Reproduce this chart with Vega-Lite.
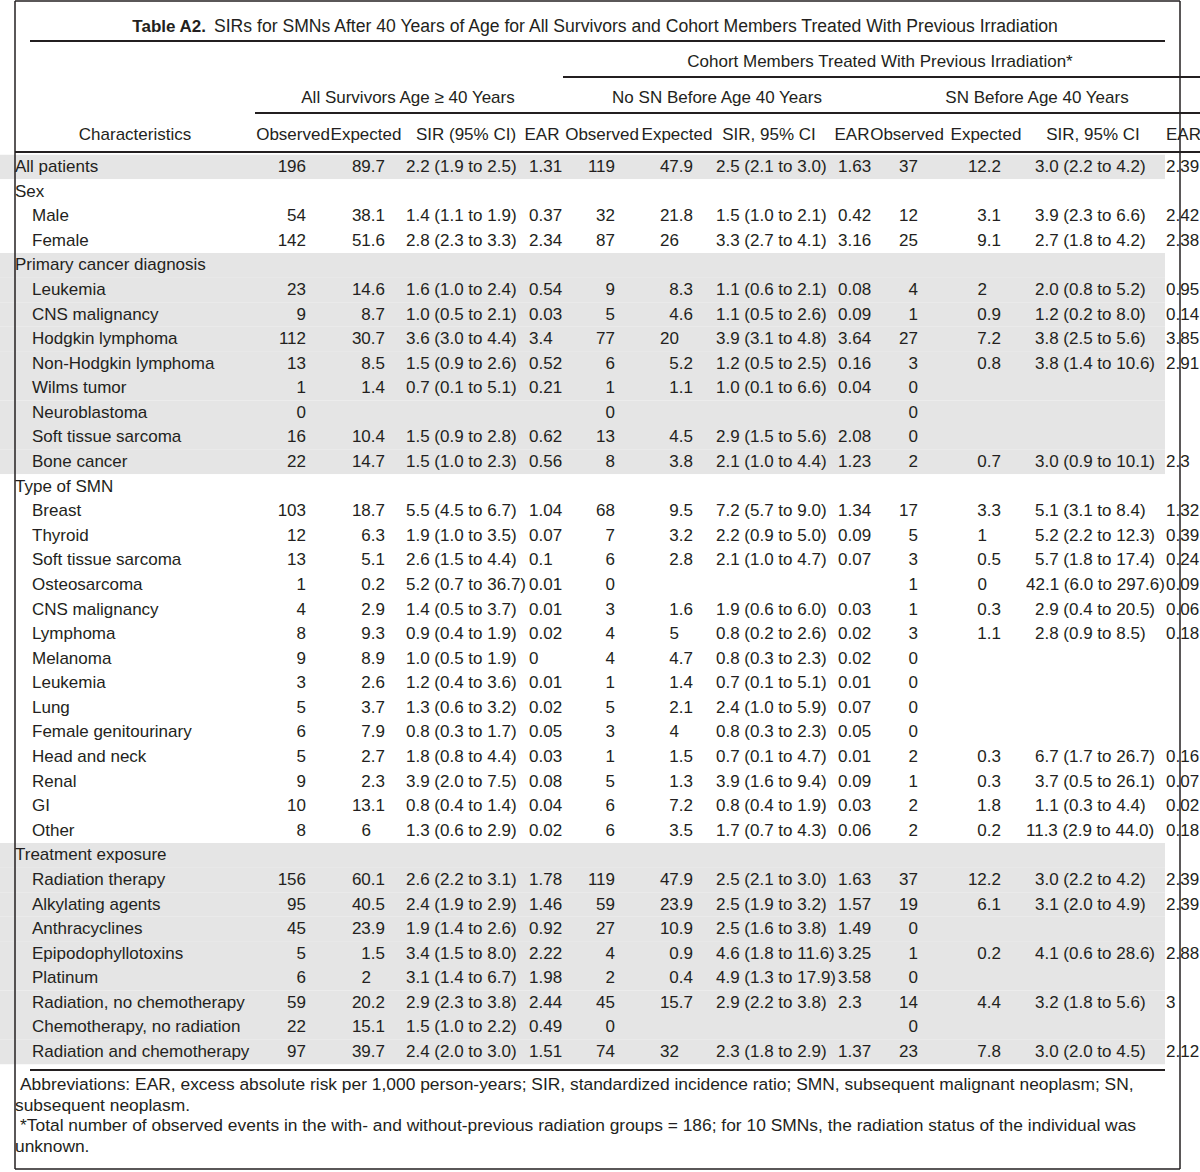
{
"$schema": "https://vega.github.io/schema/vega-lite/v6.json",
"width": 1200, "height": 1172, "autosize": "none", "padding": 0, "background": "white",
"config": {"view": {"stroke": null}, "text": {"font": "Liberation Sans", "fontSize": 17, "color": "#231f20", "baseline": "middle"}, "rule": {"color": "#231f20"}},
"datasets": {
"rows": [
{"r":1,"sec":"A","lvl":0,"label":"All patients","o1":"196","e1":"89.7","s1":"2.2 (1.9 to 2.5)","a1":"1.31","o2":"119","e2":"47.9","s2":"2.5 (2.1 to 3.0)","a2":"1.63","o3":"37","e3":"12.2","s3":"3.0 (2.2 to 4.2)","a3":"2.39"},
{"r":2,"sec":"S","lvl":0,"label":"Sex"},
{"r":3,"sec":"S","lvl":1,"label":"Male","o1":"54","e1":"38.1","s1":"1.4 (1.1 to 1.9)","a1":"0.37","o2":"32","e2":"21.8","s2":"1.5 (1.0 to 2.1)","a2":"0.42","o3":"12","e3":"3.1","s3":"3.9 (2.3 to 6.6)","a3":"2.42"},
{"r":4,"sec":"S","lvl":1,"label":"Female","o1":"142","e1":"51.6","s1":"2.8 (2.3 to 3.3)","a1":"2.34","o2":"87","e2":"26","s2":"3.3 (2.7 to 4.1)","a2":"3.16","o3":"25","e3":"9.1","s3":"2.7 (1.8 to 4.2)","a3":"2.38"},
{"r":5,"sec":"D","lvl":0,"label":"Primary cancer diagnosis"},
{"r":6,"sec":"D","lvl":1,"label":"Leukemia","o1":"23","e1":"14.6","s1":"1.6 (1.0 to 2.4)","a1":"0.54","o2":"9","e2":"8.3","s2":"1.1 (0.6 to 2.1)","a2":"0.08","o3":"4","e3":"2","s3":"2.0 (0.8 to 5.2)","a3":"0.95"},
{"r":7,"sec":"D","lvl":1,"label":"CNS malignancy","o1":"9","e1":"8.7","s1":"1.0 (0.5 to 2.1)","a1":"0.03","o2":"5","e2":"4.6","s2":"1.1 (0.5 to 2.6)","a2":"0.09","o3":"1","e3":"0.9","s3":"1.2 (0.2 to 8.0)","a3":"0.14"},
{"r":8,"sec":"D","lvl":1,"label":"Hodgkin lymphoma","o1":"112","e1":"30.7","s1":"3.6 (3.0 to 4.4)","a1":"3.4","o2":"77","e2":"20","s2":"3.9 (3.1 to 4.8)","a2":"3.64","o3":"27","e3":"7.2","s3":"3.8 (2.5 to 5.6)","a3":"3.85"},
{"r":9,"sec":"D","lvl":1,"label":"Non-Hodgkin lymphoma","o1":"13","e1":"8.5","s1":"1.5 (0.9 to 2.6)","a1":"0.52","o2":"6","e2":"5.2","s2":"1.2 (0.5 to 2.5)","a2":"0.16","o3":"3","e3":"0.8","s3":"3.8 (1.4 to 10.6)","a3":"2.91"},
{"r":10,"sec":"D","lvl":1,"label":"Wilms tumor","o1":"1","e1":"1.4","s1":"0.7 (0.1 to 5.1)","a1":"0.21","o2":"1","e2":"1.1","s2":"1.0 (0.1 to 6.6)","a2":"0.04","o3":"0"},
{"r":11,"sec":"D","lvl":1,"label":"Neuroblastoma","o1":"0","o2":"0","o3":"0"},
{"r":12,"sec":"D","lvl":1,"label":"Soft tissue sarcoma","o1":"16","e1":"10.4","s1":"1.5 (0.9 to 2.8)","a1":"0.62","o2":"13","e2":"4.5","s2":"2.9 (1.5 to 5.6)","a2":"2.08","o3":"0"},
{"r":13,"sec":"D","lvl":1,"label":"Bone cancer","o1":"22","e1":"14.7","s1":"1.5 (1.0 to 2.3)","a1":"0.56","o2":"8","e2":"3.8","s2":"2.1 (1.0 to 4.4)","a2":"1.23","o3":"2","e3":"0.7","s3":"3.0 (0.9 to 10.1)","a3":"2.3"},
{"r":14,"sec":"M","lvl":0,"label":"Type of SMN"},
{"r":15,"sec":"M","lvl":1,"label":"Breast","o1":"103","e1":"18.7","s1":"5.5 (4.5 to 6.7)","a1":"1.04","o2":"68","e2":"9.5","s2":"7.2 (5.7 to 9.0)","a2":"1.34","o3":"17","e3":"3.3","s3":"5.1 (3.1 to 8.4)","a3":"1.32"},
{"r":16,"sec":"M","lvl":1,"label":"Thyroid","o1":"12","e1":"6.3","s1":"1.9 (1.0 to 3.5)","a1":"0.07","o2":"7","e2":"3.2","s2":"2.2 (0.9 to 5.0)","a2":"0.09","o3":"5","e3":"1","s3":"5.2 (2.2 to 12.3)","a3":"0.39"},
{"r":17,"sec":"M","lvl":1,"label":"Soft tissue sarcoma","o1":"13","e1":"5.1","s1":"2.6 (1.5 to 4.4)","a1":"0.1","o2":"6","e2":"2.8","s2":"2.1 (1.0 to 4.7)","a2":"0.07","o3":"3","e3":"0.5","s3":"5.7 (1.8 to 17.4)","a3":"0.24"},
{"r":18,"sec":"M","lvl":1,"label":"Osteosarcoma","o1":"1","e1":"0.2","s1":"5.2 (0.7 to 36.7)","a1":"0.01","o2":"0","o3":"1","e3":"0","s3":"42.1 (6.0 to 297.6)","a3":"0.09"},
{"r":19,"sec":"M","lvl":1,"label":"CNS malignancy","o1":"4","e1":"2.9","s1":"1.4 (0.5 to 3.7)","a1":"0.01","o2":"3","e2":"1.6","s2":"1.9 (0.6 to 6.0)","a2":"0.03","o3":"1","e3":"0.3","s3":"2.9 (0.4 to 20.5)","a3":"0.06"},
{"r":20,"sec":"M","lvl":1,"label":"Lymphoma","o1":"8","e1":"9.3","s1":"0.9 (0.4 to 1.9)","a1":"0.02","o2":"4","e2":"5","s2":"0.8 (0.2 to 2.6)","a2":"0.02","o3":"3","e3":"1.1","s3":"2.8 (0.9 to 8.5)","a3":"0.18"},
{"r":21,"sec":"M","lvl":1,"label":"Melanoma","o1":"9","e1":"8.9","s1":"1.0 (0.5 to 1.9)","a1":"0","o2":"4","e2":"4.7","s2":"0.8 (0.3 to 2.3)","a2":"0.02","o3":"0"},
{"r":22,"sec":"M","lvl":1,"label":"Leukemia","o1":"3","e1":"2.6","s1":"1.2 (0.4 to 3.6)","a1":"0.01","o2":"1","e2":"1.4","s2":"0.7 (0.1 to 5.1)","a2":"0.01","o3":"0"},
{"r":23,"sec":"M","lvl":1,"label":"Lung","o1":"5","e1":"3.7","s1":"1.3 (0.6 to 3.2)","a1":"0.02","o2":"5","e2":"2.1","s2":"2.4 (1.0 to 5.9)","a2":"0.07","o3":"0"},
{"r":24,"sec":"M","lvl":1,"label":"Female genitourinary","o1":"6","e1":"7.9","s1":"0.8 (0.3 to 1.7)","a1":"0.05","o2":"3","e2":"4","s2":"0.8 (0.3 to 2.3)","a2":"0.05","o3":"0"},
{"r":25,"sec":"M","lvl":1,"label":"Head and neck","o1":"5","e1":"2.7","s1":"1.8 (0.8 to 4.4)","a1":"0.03","o2":"1","e2":"1.5","s2":"0.7 (0.1 to 4.7)","a2":"0.01","o3":"2","e3":"0.3","s3":"6.7 (1.7 to 26.7)","a3":"0.16"},
{"r":26,"sec":"M","lvl":1,"label":"Renal","o1":"9","e1":"2.3","s1":"3.9 (2.0 to 7.5)","a1":"0.08","o2":"5","e2":"1.3","s2":"3.9 (1.6 to 9.4)","a2":"0.09","o3":"1","e3":"0.3","s3":"3.7 (0.5 to 26.1)","a3":"0.07"},
{"r":27,"sec":"M","lvl":1,"label":"GI","o1":"10","e1":"13.1","s1":"0.8 (0.4 to 1.4)","a1":"0.04","o2":"6","e2":"7.2","s2":"0.8 (0.4 to 1.9)","a2":"0.03","o3":"2","e3":"1.8","s3":"1.1 (0.3 to 4.4)","a3":"0.02"},
{"r":28,"sec":"M","lvl":1,"label":"Other","o1":"8","e1":"6","s1":"1.3 (0.6 to 2.9)","a1":"0.02","o2":"6","e2":"3.5","s2":"1.7 (0.7 to 4.3)","a2":"0.06","o3":"2","e3":"0.2","s3":"11.3 (2.9 to 44.0)","a3":"0.18"},
{"r":29,"sec":"T","lvl":0,"label":"Treatment exposure"},
{"r":30,"sec":"T","lvl":1,"label":"Radiation therapy","o1":"156","e1":"60.1","s1":"2.6 (2.2 to 3.1)","a1":"1.78","o2":"119","e2":"47.9","s2":"2.5 (2.1 to 3.0)","a2":"1.63","o3":"37","e3":"12.2","s3":"3.0 (2.2 to 4.2)","a3":"2.39"},
{"r":31,"sec":"T","lvl":1,"label":"Alkylating agents","o1":"95","e1":"40.5","s1":"2.4 (1.9 to 2.9)","a1":"1.46","o2":"59","e2":"23.9","s2":"2.5 (1.9 to 3.2)","a2":"1.57","o3":"19","e3":"6.1","s3":"3.1 (2.0 to 4.9)","a3":"2.39"},
{"r":32,"sec":"T","lvl":1,"label":"Anthracyclines","o1":"45","e1":"23.9","s1":"1.9 (1.4 to 2.6)","a1":"0.92","o2":"27","e2":"10.9","s2":"2.5 (1.6 to 3.8)","a2":"1.49","o3":"0"},
{"r":33,"sec":"T","lvl":1,"label":"Epipodophyllotoxins","o1":"5","e1":"1.5","s1":"3.4 (1.5 to 8.0)","a1":"2.22","o2":"4","e2":"0.9","s2":"4.6 (1.8 to 11.6)","a2":"3.25","o3":"1","e3":"0.2","s3":"4.1 (0.6 to 28.6)","a3":"2.88"},
{"r":34,"sec":"T","lvl":1,"label":"Platinum","o1":"6","e1":"2","s1":"3.1 (1.4 to 6.7)","a1":"1.98","o2":"2","e2":"0.4","s2":"4.9 (1.3 to 17.9)","a2":"3.58","o3":"0"},
{"r":35,"sec":"T","lvl":1,"label":"Radiation, no chemotherapy","o1":"59","e1":"20.2","s1":"2.9 (2.3 to 3.8)","a1":"2.44","o2":"45","e2":"15.7","s2":"2.9 (2.2 to 3.8)","a2":"2.3","o3":"14","e3":"4.4","s3":"3.2 (1.8 to 5.6)","a3":"3"},
{"r":36,"sec":"T","lvl":1,"label":"Chemotherapy, no radiation","o1":"22","e1":"15.1","s1":"1.5 (1.0 to 2.2)","a1":"0.49","o2":"0","o3":"0"},
{"r":37,"sec":"T","lvl":1,"label":"Radiation and chemotherapy","o1":"97","e1":"39.7","s1":"2.4 (2.0 to 3.0)","a1":"1.51","o2":"74","e2":"32","s2":"2.3 (1.8 to 2.9)","a2":"1.37","o3":"23","e3":"7.8","s3":"3.0 (2.0 to 4.5)","a3":"2.12"}
],
"notes": [
{"r":39,"first":true,"t":"Abbreviations: EAR, excess absolute risk per 1,000 person-years; SIR, standardized incidence ratio; SMN, subsequent malignant neoplasm; SN,"},
{"r":40,"first":false,"t":"subsequent neoplasm."},
{"r":41,"first":true,"t":"*Total number of observed events in the with- and without-previous radiation groups = 186; for 10 SMNs, the radiation status of the individual was"},
{"r":42,"first":false,"t":"unknown."}
]
},
"data": {"name": "rows"},
"layer": [
{"mark": {"type": "rect", "yOffset": -12.3, "y2Offset": 12.3},
 "encoding": {
  "x": {"datum": 0, "type": "quantitative", "scale": {"domain":[0,1,2,3,4,5,6,7,8,9,10,11,12,13,14,15,16,17,18,19,20,21,22,23,24,25,26,27,28,29,30,31,32,33,34,35,36,37,38,39,40,41,42],"range":[0,15,20,30,32,135,214,255,293,306,366,371,385,406,408,466,529,542,563,602,615,677,679,693,716,717,769,838,852,880,907,918,986,987,1001,1026,1035,1037,1093,1165,1166,1180,1200],"nice":false}, "axis": null},
  "x2": {"datum": 39},
  "y": {"field": "r", "type": "quantitative", "scale": {"domain":[-9,-8,-7,-6,-5,-4,-3,-2,-1,1,37,38,39,42,43],"range":[1,27,41,62,77,98,113,135,152,167,1052,1070,1085,1147,1169],"nice":false}, "axis": null},
  "y2": {"field": "r"},
  "fill": {"field": "sec", "type": "nominal", "scale": {"domain": ["A","S","D","M","T"], "range": ["#e5e5e5","#ffffff","#e5e5e5","#ffffff","#e5e5e5"]}, "legend": null}
 }},
{"data": {"values": [{}]}, "mark": {"type": "rule", "strokeWidth": 1.5},
 "encoding": {
  "x": {"datum": 1, "type": "quantitative", "scale": {"domain":[0,1,2,3,4,5,6,7,8,9,10,11,12,13,14,15,16,17,18,19,20,21,22,23,24,25,26,27,28,29,30,31,32,33,34,35,36,37,38,39,40,41,42],"range":[0,15,20,30,32,135,214,255,293,306,366,371,385,406,408,466,529,542,563,602,615,677,679,693,716,717,769,838,852,880,907,918,986,987,1001,1026,1035,1037,1093,1165,1166,1180,1200],"nice":false}, "axis": null},
  "x2": {"datum": 41},
  "y": {"datum": -9, "type": "quantitative", "scale": {"domain":[-9,-8,-7,-6,-5,-4,-3,-2,-1,1,37,38,39,42,43],"range":[1,27,41,62,77,98,113,135,152,167,1052,1070,1085,1147,1169],"nice":false}, "axis": null}
 }},
{"data": {"values": [{}]}, "mark": {"type": "rule", "strokeWidth": 1.5},
 "encoding": {
  "x": {"datum": 1, "type": "quantitative", "scale": {"domain":[0,1,2,3,4,5,6,7,8,9,10,11,12,13,14,15,16,17,18,19,20,21,22,23,24,25,26,27,28,29,30,31,32,33,34,35,36,37,38,39,40,41,42],"range":[0,15,20,30,32,135,214,255,293,306,366,371,385,406,408,466,529,542,563,602,615,677,679,693,716,717,769,838,852,880,907,918,986,987,1001,1026,1035,1037,1093,1165,1166,1180,1200],"nice":false}, "axis": null},
  "x2": {"datum": 41},
  "y": {"datum": 43, "type": "quantitative", "scale": {"domain":[-9,-8,-7,-6,-5,-4,-3,-2,-1,1,37,38,39,42,43],"range":[1,27,41,62,77,98,113,135,152,167,1052,1070,1085,1147,1169],"nice":false}, "axis": null}
 }},
{"data": {"values": [{}]}, "mark": {"type": "rule", "strokeWidth": 1.5},
 "encoding": {
  "x": {"datum": 1, "type": "quantitative", "scale": {"domain":[0,1,2,3,4,5,6,7,8,9,10,11,12,13,14,15,16,17,18,19,20,21,22,23,24,25,26,27,28,29,30,31,32,33,34,35,36,37,38,39,40,41,42],"range":[0,15,20,30,32,135,214,255,293,306,366,371,385,406,408,466,529,542,563,602,615,677,679,693,716,717,769,838,852,880,907,918,986,987,1001,1026,1035,1037,1093,1165,1166,1180,1200],"nice":false}, "axis": null},
  "y": {"datum": -9, "type": "quantitative", "scale": {"domain":[-9,-8,-7,-6,-5,-4,-3,-2,-1,1,37,38,39,42,43],"range":[1,27,41,62,77,98,113,135,152,167,1052,1070,1085,1147,1169],"nice":false}, "axis": null},
  "y2": {"datum": 43}
 }},
{"data": {"values": [{}]}, "mark": {"type": "rule", "strokeWidth": 1.5},
 "encoding": {
  "x": {"datum": 41, "type": "quantitative", "scale": {"domain":[0,1,2,3,4,5,6,7,8,9,10,11,12,13,14,15,16,17,18,19,20,21,22,23,24,25,26,27,28,29,30,31,32,33,34,35,36,37,38,39,40,41,42],"range":[0,15,20,30,32,135,214,255,293,306,366,371,385,406,408,466,529,542,563,602,615,677,679,693,716,717,769,838,852,880,907,918,986,987,1001,1026,1035,1037,1093,1165,1166,1180,1200],"nice":false}, "axis": null},
  "y": {"datum": -9, "type": "quantitative", "scale": {"domain":[-9,-8,-7,-6,-5,-4,-3,-2,-1,1,37,38,39,42,43],"range":[1,27,41,62,77,98,113,135,152,167,1052,1070,1085,1147,1169],"nice":false}, "axis": null},
  "y2": {"datum": 43}
 }},
{"data": {"values": [{}]}, "mark": {"type": "rule", "strokeWidth": 2},
 "encoding": {
  "x": {"datum": 3, "type": "quantitative", "scale": {"domain":[0,1,2,3,4,5,6,7,8,9,10,11,12,13,14,15,16,17,18,19,20,21,22,23,24,25,26,27,28,29,30,31,32,33,34,35,36,37,38,39,40,41,42],"range":[0,15,20,30,32,135,214,255,293,306,366,371,385,406,408,466,529,542,563,602,615,677,679,693,716,717,769,838,852,880,907,918,986,987,1001,1026,1035,1037,1093,1165,1166,1180,1200],"nice":false}, "axis": null},
  "x2": {"datum": 39},
  "y": {"datum": -7, "type": "quantitative", "scale": {"domain":[-9,-8,-7,-6,-5,-4,-3,-2,-1,1,37,38,39,42,43],"range":[1,27,41,62,77,98,113,135,152,167,1052,1070,1085,1147,1169],"nice":false}, "axis": null}
 }},
{"data": {"values": [{}]}, "mark": {"type": "rule", "strokeWidth": 2},
 "encoding": {
  "x": {"datum": 18, "type": "quantitative", "scale": {"domain":[0,1,2,3,4,5,6,7,8,9,10,11,12,13,14,15,16,17,18,19,20,21,22,23,24,25,26,27,28,29,30,31,32,33,34,35,36,37,38,39,40,41,42],"range":[0,15,20,30,32,135,214,255,293,306,366,371,385,406,408,466,529,542,563,602,615,677,679,693,716,717,769,838,852,880,907,918,986,987,1001,1026,1035,1037,1093,1165,1166,1180,1200],"nice":false}, "axis": null},
  "x2": {"datum": 42},
  "y": {"datum": -5, "type": "quantitative", "scale": {"domain":[-9,-8,-7,-6,-5,-4,-3,-2,-1,1,37,38,39,42,43],"range":[1,27,41,62,77,98,113,135,152,167,1052,1070,1085,1147,1169],"nice":false}, "axis": null}
 }},
{"data": {"values": [{}]}, "mark": {"type": "rule", "strokeWidth": 2},
 "encoding": {
  "x": {"datum": 7, "type": "quantitative", "scale": {"domain":[0,1,2,3,4,5,6,7,8,9,10,11,12,13,14,15,16,17,18,19,20,21,22,23,24,25,26,27,28,29,30,31,32,33,34,35,36,37,38,39,40,41,42],"range":[0,15,20,30,32,135,214,255,293,306,366,371,385,406,408,466,529,542,563,602,615,677,679,693,716,717,769,838,852,880,907,918,986,987,1001,1026,1035,1037,1093,1165,1166,1180,1200],"nice":false}, "axis": null},
  "x2": {"datum": 42},
  "y": {"datum": -3, "type": "quantitative", "scale": {"domain":[-9,-8,-7,-6,-5,-4,-3,-2,-1,1,37,38,39,42,43],"range":[1,27,41,62,77,98,113,135,152,167,1052,1070,1085,1147,1169],"nice":false}, "axis": null}
 }},
{"data": {"values": [{}]}, "mark": {"type": "rule", "strokeWidth": 2},
 "encoding": {
  "x": {"datum": 1, "type": "quantitative", "scale": {"domain":[0,1,2,3,4,5,6,7,8,9,10,11,12,13,14,15,16,17,18,19,20,21,22,23,24,25,26,27,28,29,30,31,32,33,34,35,36,37,38,39,40,41,42],"range":[0,15,20,30,32,135,214,255,293,306,366,371,385,406,408,466,529,542,563,602,615,677,679,693,716,717,769,838,852,880,907,918,986,987,1001,1026,1035,1037,1093,1165,1166,1180,1200],"nice":false}, "axis": null},
  "x2": {"datum": 42},
  "y": {"datum": -1, "type": "quantitative", "scale": {"domain":[-9,-8,-7,-6,-5,-4,-3,-2,-1,1,37,38,39,42,43],"range":[1,27,41,62,77,98,113,135,152,167,1052,1070,1085,1147,1169],"nice":false}, "axis": null}
 }},
{"data": {"values": [{}]}, "mark": {"type": "rule", "strokeWidth": 2},
 "encoding": {
  "x": {"datum": 3, "type": "quantitative", "scale": {"domain":[0,1,2,3,4,5,6,7,8,9,10,11,12,13,14,15,16,17,18,19,20,21,22,23,24,25,26,27,28,29,30,31,32,33,34,35,36,37,38,39,40,41,42],"range":[0,15,20,30,32,135,214,255,293,306,366,371,385,406,408,466,529,542,563,602,615,677,679,693,716,717,769,838,852,880,907,918,986,987,1001,1026,1035,1037,1093,1165,1166,1180,1200],"nice":false}, "axis": null},
  "x2": {"datum": 39},
  "y": {"datum": 38, "type": "quantitative", "scale": {"domain":[-9,-8,-7,-6,-5,-4,-3,-2,-1,1,37,38,39,42,43],"range":[1,27,41,62,77,98,113,135,152,167,1052,1070,1085,1147,1169],"nice":false}, "axis": null}
 }},
{"data": {"values": [{}]}, "mark": {"type": "text", "align": "right", "fontWeight": "bold", "dx": -8},
 "encoding": {
  "x": {"datum": 6, "type": "quantitative", "scale": {"domain":[0,1,2,3,4,5,6,7,8,9,10,11,12,13,14,15,16,17,18,19,20,21,22,23,24,25,26,27,28,29,30,31,32,33,34,35,36,37,38,39,40,41,42],"range":[0,15,20,30,32,135,214,255,293,306,366,371,385,406,408,466,529,542,563,602,615,677,679,693,716,717,769,838,852,880,907,918,986,987,1001,1026,1035,1037,1093,1165,1166,1180,1200],"nice":false}, "axis": null},
  "y": {"datum": -8, "type": "quantitative", "scale": {"domain":[-9,-8,-7,-6,-5,-4,-3,-2,-1,1,37,38,39,42,43],"range":[1,27,41,62,77,98,113,135,152,167,1052,1070,1085,1147,1169],"nice":false}, "axis": null},
  "text": {"value": "Table A2."}
 }},
{"data": {"values": [{}]}, "mark": {"type": "text", "align": "left", "fontSize": 17.6},
 "encoding": {
  "x": {"datum": 6, "type": "quantitative", "scale": {"domain":[0,1,2,3,4,5,6,7,8,9,10,11,12,13,14,15,16,17,18,19,20,21,22,23,24,25,26,27,28,29,30,31,32,33,34,35,36,37,38,39,40,41,42],"range":[0,15,20,30,32,135,214,255,293,306,366,371,385,406,408,466,529,542,563,602,615,677,679,693,716,717,769,838,852,880,907,918,986,987,1001,1026,1035,1037,1093,1165,1166,1180,1200],"nice":false}, "axis": null},
  "y": {"datum": -8, "type": "quantitative", "scale": {"domain":[-9,-8,-7,-6,-5,-4,-3,-2,-1,1,37,38,39,42,43],"range":[1,27,41,62,77,98,113,135,152,167,1052,1070,1085,1147,1169],"nice":false}, "axis": null},
  "text": {"value": "SIRs for SMNs After 40 Years of Age for All Survivors and Cohort Members Treated With Previous Irradiation"}
 }},
{"data": {"values": [{}]}, "mark": {"type": "text", "align": "center"},
 "encoding": {
  "x": {"datum": 29, "type": "quantitative", "scale": {"domain":[0,1,2,3,4,5,6,7,8,9,10,11,12,13,14,15,16,17,18,19,20,21,22,23,24,25,26,27,28,29,30,31,32,33,34,35,36,37,38,39,40,41,42],"range":[0,15,20,30,32,135,214,255,293,306,366,371,385,406,408,466,529,542,563,602,615,677,679,693,716,717,769,838,852,880,907,918,986,987,1001,1026,1035,1037,1093,1165,1166,1180,1200],"nice":false}, "axis": null},
  "y": {"datum": -6, "type": "quantitative", "scale": {"domain":[-9,-8,-7,-6,-5,-4,-3,-2,-1,1,37,38,39,42,43],"range":[1,27,41,62,77,98,113,135,152,167,1052,1070,1085,1147,1169],"nice":false}, "axis": null},
  "text": {"value": "Cohort Members Treated With Previous Irradiation*"}
 }},
{"data": {"values": [{}]}, "mark": {"type": "text", "align": "center"},
 "encoding": {
  "x": {"datum": 14, "type": "quantitative", "scale": {"domain":[0,1,2,3,4,5,6,7,8,9,10,11,12,13,14,15,16,17,18,19,20,21,22,23,24,25,26,27,28,29,30,31,32,33,34,35,36,37,38,39,40,41,42],"range":[0,15,20,30,32,135,214,255,293,306,366,371,385,406,408,466,529,542,563,602,615,677,679,693,716,717,769,838,852,880,907,918,986,987,1001,1026,1035,1037,1093,1165,1166,1180,1200],"nice":false}, "axis": null},
  "y": {"datum": -4, "type": "quantitative", "scale": {"domain":[-9,-8,-7,-6,-5,-4,-3,-2,-1,1,37,38,39,42,43],"range":[1,27,41,62,77,98,113,135,152,167,1052,1070,1085,1147,1169],"nice":false}, "axis": null},
  "text": {"value": "All Survivors Age \u2265 40 Years"}
 }},
{"data": {"values": [{}]}, "mark": {"type": "text", "align": "center"},
 "encoding": {
  "x": {"datum": 25, "type": "quantitative", "scale": {"domain":[0,1,2,3,4,5,6,7,8,9,10,11,12,13,14,15,16,17,18,19,20,21,22,23,24,25,26,27,28,29,30,31,32,33,34,35,36,37,38,39,40,41,42],"range":[0,15,20,30,32,135,214,255,293,306,366,371,385,406,408,466,529,542,563,602,615,677,679,693,716,717,769,838,852,880,907,918,986,987,1001,1026,1035,1037,1093,1165,1166,1180,1200],"nice":false}, "axis": null},
  "y": {"datum": -4, "type": "quantitative", "scale": {"domain":[-9,-8,-7,-6,-5,-4,-3,-2,-1,1,37,38,39,42,43],"range":[1,27,41,62,77,98,113,135,152,167,1052,1070,1085,1147,1169],"nice":false}, "axis": null},
  "text": {"value": "No SN Before Age 40 Years"}
 }},
{"data": {"values": [{}]}, "mark": {"type": "text", "align": "center"},
 "encoding": {
  "x": {"datum": 37, "type": "quantitative", "scale": {"domain":[0,1,2,3,4,5,6,7,8,9,10,11,12,13,14,15,16,17,18,19,20,21,22,23,24,25,26,27,28,29,30,31,32,33,34,35,36,37,38,39,40,41,42],"range":[0,15,20,30,32,135,214,255,293,306,366,371,385,406,408,466,529,542,563,602,615,677,679,693,716,717,769,838,852,880,907,918,986,987,1001,1026,1035,1037,1093,1165,1166,1180,1200],"nice":false}, "axis": null},
  "y": {"datum": -4, "type": "quantitative", "scale": {"domain":[-9,-8,-7,-6,-5,-4,-3,-2,-1,1,37,38,39,42,43],"range":[1,27,41,62,77,98,113,135,152,167,1052,1070,1085,1147,1169],"nice":false}, "axis": null},
  "text": {"value": "SN Before Age 40 Years"}
 }},
{"data": {"values": [{"h":"Characteristics","k":5},{"h":"Observed","k":8},{"h":"Expected","k":10},{"h":"SIR (95% CI)","k":15},{"h":"EAR","k":17},{"h":"Observed","k":19},{"h":"Expected","k":21},{"h":"SIR, 95% CI","k":26},{"h":"EAR","k":28},{"h":"Observed","k":30},{"h":"Expected","k":32},{"h":"SIR, 95% CI","k":38}]},
 "mark": {"type": "text", "align": "center"},
 "encoding": {
  "x": {"field": "k", "type": "quantitative", "scale": {"domain":[0,1,2,3,4,5,6,7,8,9,10,11,12,13,14,15,16,17,18,19,20,21,22,23,24,25,26,27,28,29,30,31,32,33,34,35,36,37,38,39,40,41,42],"range":[0,15,20,30,32,135,214,255,293,306,366,371,385,406,408,466,529,542,563,602,615,677,679,693,716,717,769,838,852,880,907,918,986,987,1001,1026,1035,1037,1093,1165,1166,1180,1200],"nice":false}, "axis": null},
  "y": {"datum": -2, "type": "quantitative", "scale": {"domain":[-9,-8,-7,-6,-5,-4,-3,-2,-1,1,37,38,39,42,43],"range":[1,27,41,62,77,98,113,135,152,167,1052,1070,1085,1147,1169],"nice":false}, "axis": null},
  "text": {"field": "h"}
 }},
{"data": {"values": [{}]}, "mark": {"type": "text", "align": "left"},
 "encoding": {
  "x": {"datum": 40, "type": "quantitative", "scale": {"domain":[0,1,2,3,4,5,6,7,8,9,10,11,12,13,14,15,16,17,18,19,20,21,22,23,24,25,26,27,28,29,30,31,32,33,34,35,36,37,38,39,40,41,42],"range":[0,15,20,30,32,135,214,255,293,306,366,371,385,406,408,466,529,542,563,602,615,677,679,693,716,717,769,838,852,880,907,918,986,987,1001,1026,1035,1037,1093,1165,1166,1180,1200],"nice":false}, "axis": null},
  "y": {"datum": -2, "type": "quantitative", "scale": {"domain":[-9,-8,-7,-6,-5,-4,-3,-2,-1,1,37,38,39,42,43],"range":[1,27,41,62,77,98,113,135,152,167,1052,1070,1085,1147,1169],"nice":false}, "axis": null},
  "text": {"value": "EAR"}
 }},
{"transform": [{"filter": "datum.lvl == 0"}], "mark": {"type": "text", "align": "left"},
 "encoding": {
  "x": {"datum": 1, "type": "quantitative", "scale": {"domain":[0,1,2,3,4,5,6,7,8,9,10,11,12,13,14,15,16,17,18,19,20,21,22,23,24,25,26,27,28,29,30,31,32,33,34,35,36,37,38,39,40,41,42],"range":[0,15,20,30,32,135,214,255,293,306,366,371,385,406,408,466,529,542,563,602,615,677,679,693,716,717,769,838,852,880,907,918,986,987,1001,1026,1035,1037,1093,1165,1166,1180,1200],"nice":false}, "axis": null},
  "y": {"field": "r", "type": "quantitative", "scale": {"domain":[-9,-8,-7,-6,-5,-4,-3,-2,-1,1,37,38,39,42,43],"range":[1,27,41,62,77,98,113,135,152,167,1052,1070,1085,1147,1169],"nice":false}, "axis": null},
  "text": {"field": "label"}
 }},
{"transform": [{"filter": "datum.lvl == 1"}], "mark": {"type": "text", "align": "left"},
 "encoding": {
  "x": {"datum": 4, "type": "quantitative", "scale": {"domain":[0,1,2,3,4,5,6,7,8,9,10,11,12,13,14,15,16,17,18,19,20,21,22,23,24,25,26,27,28,29,30,31,32,33,34,35,36,37,38,39,40,41,42],"range":[0,15,20,30,32,135,214,255,293,306,366,371,385,406,408,466,529,542,563,602,615,677,679,693,716,717,769,838,852,880,907,918,986,987,1001,1026,1035,1037,1093,1165,1166,1180,1200],"nice":false}, "axis": null},
  "y": {"field": "r", "type": "quantitative", "scale": {"domain":[-9,-8,-7,-6,-5,-4,-3,-2,-1,1,37,38,39,42,43],"range":[1,27,41,62,77,98,113,135,152,167,1052,1070,1085,1147,1169],"nice":false}, "axis": null},
  "text": {"field": "label"}
 }},
{"transform": [{"filter": "isValid(datum.o1)"}], "mark": {"type": "text", "align": "right"},
 "encoding": {
  "x": {"datum": 9, "type": "quantitative", "scale": {"domain":[0,1,2,3,4,5,6,7,8,9,10,11,12,13,14,15,16,17,18,19,20,21,22,23,24,25,26,27,28,29,30,31,32,33,34,35,36,37,38,39,40,41,42],"range":[0,15,20,30,32,135,214,255,293,306,366,371,385,406,408,466,529,542,563,602,615,677,679,693,716,717,769,838,852,880,907,918,986,987,1001,1026,1035,1037,1093,1165,1166,1180,1200],"nice":false}, "axis": null},
  "y": {"field": "r", "type": "quantitative", "scale": {"domain":[-9,-8,-7,-6,-5,-4,-3,-2,-1,1,37,38,39,42,43],"range":[1,27,41,62,77,98,113,135,152,167,1052,1070,1085,1147,1169],"nice":false}, "axis": null},
  "text": {"field": "o1"}
 }},
{"transform": [{"filter": "isValid(datum.e1) && indexof(datum.e1, '.') < 0"}], "mark": {"type": "text", "align": "right"},
 "encoding": {
  "x": {"datum": 11, "type": "quantitative", "scale": {"domain":[0,1,2,3,4,5,6,7,8,9,10,11,12,13,14,15,16,17,18,19,20,21,22,23,24,25,26,27,28,29,30,31,32,33,34,35,36,37,38,39,40,41,42],"range":[0,15,20,30,32,135,214,255,293,306,366,371,385,406,408,466,529,542,563,602,615,677,679,693,716,717,769,838,852,880,907,918,986,987,1001,1026,1035,1037,1093,1165,1166,1180,1200],"nice":false}, "axis": null},
  "y": {"field": "r", "type": "quantitative", "scale": {"domain":[-9,-8,-7,-6,-5,-4,-3,-2,-1,1,37,38,39,42,43],"range":[1,27,41,62,77,98,113,135,152,167,1052,1070,1085,1147,1169],"nice":false}, "axis": null},
  "text": {"field": "e1"}
 }},
{"transform": [{"filter": "isValid(datum.e1) && indexof(datum.e1, '.') >= 0"}], "mark": {"type": "text", "align": "right"},
 "encoding": {
  "x": {"datum": 12, "type": "quantitative", "scale": {"domain":[0,1,2,3,4,5,6,7,8,9,10,11,12,13,14,15,16,17,18,19,20,21,22,23,24,25,26,27,28,29,30,31,32,33,34,35,36,37,38,39,40,41,42],"range":[0,15,20,30,32,135,214,255,293,306,366,371,385,406,408,466,529,542,563,602,615,677,679,693,716,717,769,838,852,880,907,918,986,987,1001,1026,1035,1037,1093,1165,1166,1180,1200],"nice":false}, "axis": null},
  "y": {"field": "r", "type": "quantitative", "scale": {"domain":[-9,-8,-7,-6,-5,-4,-3,-2,-1,1,37,38,39,42,43],"range":[1,27,41,62,77,98,113,135,152,167,1052,1070,1085,1147,1169],"nice":false}, "axis": null},
  "text": {"field": "e1"}
 }},
{"transform": [{"filter": "isValid(datum.s1)"}], "mark": {"type": "text", "align": "left"},
 "encoding": {
  "x": {"datum": 13, "type": "quantitative", "scale": {"domain":[0,1,2,3,4,5,6,7,8,9,10,11,12,13,14,15,16,17,18,19,20,21,22,23,24,25,26,27,28,29,30,31,32,33,34,35,36,37,38,39,40,41,42],"range":[0,15,20,30,32,135,214,255,293,306,366,371,385,406,408,466,529,542,563,602,615,677,679,693,716,717,769,838,852,880,907,918,986,987,1001,1026,1035,1037,1093,1165,1166,1180,1200],"nice":false}, "axis": null},
  "y": {"field": "r", "type": "quantitative", "scale": {"domain":[-9,-8,-7,-6,-5,-4,-3,-2,-1,1,37,38,39,42,43],"range":[1,27,41,62,77,98,113,135,152,167,1052,1070,1085,1147,1169],"nice":false}, "axis": null},
  "text": {"field": "s1"}
 }},
{"transform": [{"filter": "isValid(datum.a1)"}], "mark": {"type": "text", "align": "left"},
 "encoding": {
  "x": {"datum": 16, "type": "quantitative", "scale": {"domain":[0,1,2,3,4,5,6,7,8,9,10,11,12,13,14,15,16,17,18,19,20,21,22,23,24,25,26,27,28,29,30,31,32,33,34,35,36,37,38,39,40,41,42],"range":[0,15,20,30,32,135,214,255,293,306,366,371,385,406,408,466,529,542,563,602,615,677,679,693,716,717,769,838,852,880,907,918,986,987,1001,1026,1035,1037,1093,1165,1166,1180,1200],"nice":false}, "axis": null},
  "y": {"field": "r", "type": "quantitative", "scale": {"domain":[-9,-8,-7,-6,-5,-4,-3,-2,-1,1,37,38,39,42,43],"range":[1,27,41,62,77,98,113,135,152,167,1052,1070,1085,1147,1169],"nice":false}, "axis": null},
  "text": {"field": "a1"}
 }},
{"transform": [{"filter": "isValid(datum.o2)"}], "mark": {"type": "text", "align": "right"},
 "encoding": {
  "x": {"datum": 20, "type": "quantitative", "scale": {"domain":[0,1,2,3,4,5,6,7,8,9,10,11,12,13,14,15,16,17,18,19,20,21,22,23,24,25,26,27,28,29,30,31,32,33,34,35,36,37,38,39,40,41,42],"range":[0,15,20,30,32,135,214,255,293,306,366,371,385,406,408,466,529,542,563,602,615,677,679,693,716,717,769,838,852,880,907,918,986,987,1001,1026,1035,1037,1093,1165,1166,1180,1200],"nice":false}, "axis": null},
  "y": {"field": "r", "type": "quantitative", "scale": {"domain":[-9,-8,-7,-6,-5,-4,-3,-2,-1,1,37,38,39,42,43],"range":[1,27,41,62,77,98,113,135,152,167,1052,1070,1085,1147,1169],"nice":false}, "axis": null},
  "text": {"field": "o2"}
 }},
{"transform": [{"filter": "isValid(datum.e2) && indexof(datum.e2, '.') < 0"}], "mark": {"type": "text", "align": "right"},
 "encoding": {
  "x": {"datum": 22, "type": "quantitative", "scale": {"domain":[0,1,2,3,4,5,6,7,8,9,10,11,12,13,14,15,16,17,18,19,20,21,22,23,24,25,26,27,28,29,30,31,32,33,34,35,36,37,38,39,40,41,42],"range":[0,15,20,30,32,135,214,255,293,306,366,371,385,406,408,466,529,542,563,602,615,677,679,693,716,717,769,838,852,880,907,918,986,987,1001,1026,1035,1037,1093,1165,1166,1180,1200],"nice":false}, "axis": null},
  "y": {"field": "r", "type": "quantitative", "scale": {"domain":[-9,-8,-7,-6,-5,-4,-3,-2,-1,1,37,38,39,42,43],"range":[1,27,41,62,77,98,113,135,152,167,1052,1070,1085,1147,1169],"nice":false}, "axis": null},
  "text": {"field": "e2"}
 }},
{"transform": [{"filter": "isValid(datum.e2) && indexof(datum.e2, '.') >= 0"}], "mark": {"type": "text", "align": "right"},
 "encoding": {
  "x": {"datum": 23, "type": "quantitative", "scale": {"domain":[0,1,2,3,4,5,6,7,8,9,10,11,12,13,14,15,16,17,18,19,20,21,22,23,24,25,26,27,28,29,30,31,32,33,34,35,36,37,38,39,40,41,42],"range":[0,15,20,30,32,135,214,255,293,306,366,371,385,406,408,466,529,542,563,602,615,677,679,693,716,717,769,838,852,880,907,918,986,987,1001,1026,1035,1037,1093,1165,1166,1180,1200],"nice":false}, "axis": null},
  "y": {"field": "r", "type": "quantitative", "scale": {"domain":[-9,-8,-7,-6,-5,-4,-3,-2,-1,1,37,38,39,42,43],"range":[1,27,41,62,77,98,113,135,152,167,1052,1070,1085,1147,1169],"nice":false}, "axis": null},
  "text": {"field": "e2"}
 }},
{"transform": [{"filter": "isValid(datum.s2)"}], "mark": {"type": "text", "align": "left"},
 "encoding": {
  "x": {"datum": 24, "type": "quantitative", "scale": {"domain":[0,1,2,3,4,5,6,7,8,9,10,11,12,13,14,15,16,17,18,19,20,21,22,23,24,25,26,27,28,29,30,31,32,33,34,35,36,37,38,39,40,41,42],"range":[0,15,20,30,32,135,214,255,293,306,366,371,385,406,408,466,529,542,563,602,615,677,679,693,716,717,769,838,852,880,907,918,986,987,1001,1026,1035,1037,1093,1165,1166,1180,1200],"nice":false}, "axis": null},
  "y": {"field": "r", "type": "quantitative", "scale": {"domain":[-9,-8,-7,-6,-5,-4,-3,-2,-1,1,37,38,39,42,43],"range":[1,27,41,62,77,98,113,135,152,167,1052,1070,1085,1147,1169],"nice":false}, "axis": null},
  "text": {"field": "s2"}
 }},
{"transform": [{"filter": "isValid(datum.a2)"}], "mark": {"type": "text", "align": "left"},
 "encoding": {
  "x": {"datum": 27, "type": "quantitative", "scale": {"domain":[0,1,2,3,4,5,6,7,8,9,10,11,12,13,14,15,16,17,18,19,20,21,22,23,24,25,26,27,28,29,30,31,32,33,34,35,36,37,38,39,40,41,42],"range":[0,15,20,30,32,135,214,255,293,306,366,371,385,406,408,466,529,542,563,602,615,677,679,693,716,717,769,838,852,880,907,918,986,987,1001,1026,1035,1037,1093,1165,1166,1180,1200],"nice":false}, "axis": null},
  "y": {"field": "r", "type": "quantitative", "scale": {"domain":[-9,-8,-7,-6,-5,-4,-3,-2,-1,1,37,38,39,42,43],"range":[1,27,41,62,77,98,113,135,152,167,1052,1070,1085,1147,1169],"nice":false}, "axis": null},
  "text": {"field": "a2"}
 }},
{"transform": [{"filter": "isValid(datum.o3)"}], "mark": {"type": "text", "align": "right"},
 "encoding": {
  "x": {"datum": 31, "type": "quantitative", "scale": {"domain":[0,1,2,3,4,5,6,7,8,9,10,11,12,13,14,15,16,17,18,19,20,21,22,23,24,25,26,27,28,29,30,31,32,33,34,35,36,37,38,39,40,41,42],"range":[0,15,20,30,32,135,214,255,293,306,366,371,385,406,408,466,529,542,563,602,615,677,679,693,716,717,769,838,852,880,907,918,986,987,1001,1026,1035,1037,1093,1165,1166,1180,1200],"nice":false}, "axis": null},
  "y": {"field": "r", "type": "quantitative", "scale": {"domain":[-9,-8,-7,-6,-5,-4,-3,-2,-1,1,37,38,39,42,43],"range":[1,27,41,62,77,98,113,135,152,167,1052,1070,1085,1147,1169],"nice":false}, "axis": null},
  "text": {"field": "o3"}
 }},
{"transform": [{"filter": "isValid(datum.e3) && indexof(datum.e3, '.') < 0"}], "mark": {"type": "text", "align": "right"},
 "encoding": {
  "x": {"datum": 33, "type": "quantitative", "scale": {"domain":[0,1,2,3,4,5,6,7,8,9,10,11,12,13,14,15,16,17,18,19,20,21,22,23,24,25,26,27,28,29,30,31,32,33,34,35,36,37,38,39,40,41,42],"range":[0,15,20,30,32,135,214,255,293,306,366,371,385,406,408,466,529,542,563,602,615,677,679,693,716,717,769,838,852,880,907,918,986,987,1001,1026,1035,1037,1093,1165,1166,1180,1200],"nice":false}, "axis": null},
  "y": {"field": "r", "type": "quantitative", "scale": {"domain":[-9,-8,-7,-6,-5,-4,-3,-2,-1,1,37,38,39,42,43],"range":[1,27,41,62,77,98,113,135,152,167,1052,1070,1085,1147,1169],"nice":false}, "axis": null},
  "text": {"field": "e3"}
 }},
{"transform": [{"filter": "isValid(datum.e3) && indexof(datum.e3, '.') >= 0"}], "mark": {"type": "text", "align": "right"},
 "encoding": {
  "x": {"datum": 34, "type": "quantitative", "scale": {"domain":[0,1,2,3,4,5,6,7,8,9,10,11,12,13,14,15,16,17,18,19,20,21,22,23,24,25,26,27,28,29,30,31,32,33,34,35,36,37,38,39,40,41,42],"range":[0,15,20,30,32,135,214,255,293,306,366,371,385,406,408,466,529,542,563,602,615,677,679,693,716,717,769,838,852,880,907,918,986,987,1001,1026,1035,1037,1093,1165,1166,1180,1200],"nice":false}, "axis": null},
  "y": {"field": "r", "type": "quantitative", "scale": {"domain":[-9,-8,-7,-6,-5,-4,-3,-2,-1,1,37,38,39,42,43],"range":[1,27,41,62,77,98,113,135,152,167,1052,1070,1085,1147,1169],"nice":false}, "axis": null},
  "text": {"field": "e3"}
 }},
{"transform": [{"filter": "isValid(datum.s3) && indexof(datum.s3, '.') == 1"}], "mark": {"type": "text", "align": "left"},
 "encoding": {
  "x": {"datum": 36, "type": "quantitative", "scale": {"domain":[0,1,2,3,4,5,6,7,8,9,10,11,12,13,14,15,16,17,18,19,20,21,22,23,24,25,26,27,28,29,30,31,32,33,34,35,36,37,38,39,40,41,42],"range":[0,15,20,30,32,135,214,255,293,306,366,371,385,406,408,466,529,542,563,602,615,677,679,693,716,717,769,838,852,880,907,918,986,987,1001,1026,1035,1037,1093,1165,1166,1180,1200],"nice":false}, "axis": null},
  "y": {"field": "r", "type": "quantitative", "scale": {"domain":[-9,-8,-7,-6,-5,-4,-3,-2,-1,1,37,38,39,42,43],"range":[1,27,41,62,77,98,113,135,152,167,1052,1070,1085,1147,1169],"nice":false}, "axis": null},
  "text": {"field": "s3"}
 }},
{"transform": [{"filter": "isValid(datum.s3) && indexof(datum.s3, '.') == 2"}], "mark": {"type": "text", "align": "left"},
 "encoding": {
  "x": {"datum": 35, "type": "quantitative", "scale": {"domain":[0,1,2,3,4,5,6,7,8,9,10,11,12,13,14,15,16,17,18,19,20,21,22,23,24,25,26,27,28,29,30,31,32,33,34,35,36,37,38,39,40,41,42],"range":[0,15,20,30,32,135,214,255,293,306,366,371,385,406,408,466,529,542,563,602,615,677,679,693,716,717,769,838,852,880,907,918,986,987,1001,1026,1035,1037,1093,1165,1166,1180,1200],"nice":false}, "axis": null},
  "y": {"field": "r", "type": "quantitative", "scale": {"domain":[-9,-8,-7,-6,-5,-4,-3,-2,-1,1,37,38,39,42,43],"range":[1,27,41,62,77,98,113,135,152,167,1052,1070,1085,1147,1169],"nice":false}, "axis": null},
  "text": {"field": "s3"}
 }},
{"transform": [{"filter": "isValid(datum.a3)"}], "mark": {"type": "text", "align": "left"},
 "encoding": {
  "x": {"datum": 40, "type": "quantitative", "scale": {"domain":[0,1,2,3,4,5,6,7,8,9,10,11,12,13,14,15,16,17,18,19,20,21,22,23,24,25,26,27,28,29,30,31,32,33,34,35,36,37,38,39,40,41,42],"range":[0,15,20,30,32,135,214,255,293,306,366,371,385,406,408,466,529,542,563,602,615,677,679,693,716,717,769,838,852,880,907,918,986,987,1001,1026,1035,1037,1093,1165,1166,1180,1200],"nice":false}, "axis": null},
  "y": {"field": "r", "type": "quantitative", "scale": {"domain":[-9,-8,-7,-6,-5,-4,-3,-2,-1,1,37,38,39,42,43],"range":[1,27,41,62,77,98,113,135,152,167,1052,1070,1085,1147,1169],"nice":false}, "axis": null},
  "text": {"field": "a3"}
 }},
{"data": {"name": "notes"}, "transform": [{"filter": "datum.first"}], "mark": {"type": "text", "align": "left", "fontSize": 17.4},
 "encoding": {
  "x": {"datum": 2, "type": "quantitative", "scale": {"domain":[0,1,2,3,4,5,6,7,8,9,10,11,12,13,14,15,16,17,18,19,20,21,22,23,24,25,26,27,28,29,30,31,32,33,34,35,36,37,38,39,40,41,42],"range":[0,15,20,30,32,135,214,255,293,306,366,371,385,406,408,466,529,542,563,602,615,677,679,693,716,717,769,838,852,880,907,918,986,987,1001,1026,1035,1037,1093,1165,1166,1180,1200],"nice":false}, "axis": null},
  "y": {"field": "r", "type": "quantitative", "scale": {"domain":[-9,-8,-7,-6,-5,-4,-3,-2,-1,1,37,38,39,42,43],"range":[1,27,41,62,77,98,113,135,152,167,1052,1070,1085,1147,1169],"nice":false}, "axis": null},
  "text": {"field": "t"}
 }},
{"data": {"name": "notes"}, "transform": [{"filter": "!datum.first"}], "mark": {"type": "text", "align": "left", "fontSize": 17.4},
 "encoding": {
  "x": {"datum": 1, "type": "quantitative", "scale": {"domain":[0,1,2,3,4,5,6,7,8,9,10,11,12,13,14,15,16,17,18,19,20,21,22,23,24,25,26,27,28,29,30,31,32,33,34,35,36,37,38,39,40,41,42],"range":[0,15,20,30,32,135,214,255,293,306,366,371,385,406,408,466,529,542,563,602,615,677,679,693,716,717,769,838,852,880,907,918,986,987,1001,1026,1035,1037,1093,1165,1166,1180,1200],"nice":false}, "axis": null},
  "y": {"field": "r", "type": "quantitative", "scale": {"domain":[-9,-8,-7,-6,-5,-4,-3,-2,-1,1,37,38,39,42,43],"range":[1,27,41,62,77,98,113,135,152,167,1052,1070,1085,1147,1169],"nice":false}, "axis": null},
  "text": {"field": "t"}
 }}
]
}
